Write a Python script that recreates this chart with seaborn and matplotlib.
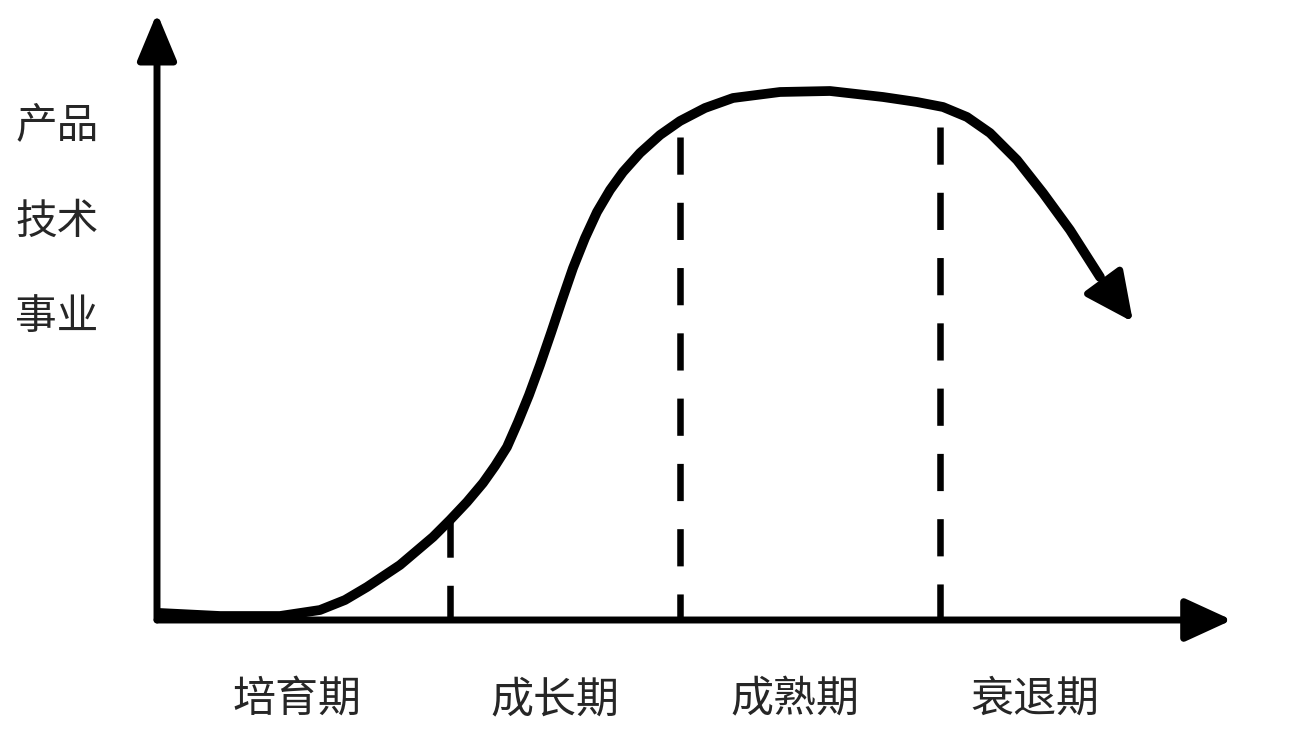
import numpy as np
import pandas as pd
import matplotlib
matplotlib.use("Agg")
import matplotlib.pyplot as plt
import seaborn as sns

# life cycle curve (x: time, y: level)
curve_x = [0.3, 6.3, 12.3, 16.3, 18.8, 21.0, 24.3, 27.6, 29.3, 31.0, 32.6, 33.8,
           35.0, 36.1, 37.2, 38.3, 39.4, 40.5, 41.6, 42.8, 44.0, 45.3, 46.6,
           48.3, 50.3, 52.3, 54.8, 57.6, 62.3, 67.3, 72.6, 76.0, 78.6, 81.0,
           83.3, 86.0, 88.6, 91.3, 94.3]
curve_y = [0.7, 0.4, 0.4, 1.0, 2.0, 3.3, 5.5, 8.3, 10.0, 11.8, 13.7, 15.4,
           17.3, 19.8, 22.5, 25.5, 28.7, 32.0, 35.2, 38.2, 40.8, 43.0, 44.8,
           46.7, 48.5, 49.9, 51.2, 52.2, 52.8, 52.9, 52.3, 51.8, 51.3, 50.3,
           48.7, 46.0, 42.7, 39.0, 34.3]
arrow_tip = (97.6, 29.8)

# stage boundaries (dashed) and where their dashes begin
bound_x = [29.3, 52.3, 78.3]
bound_top = [10.0, 48.3, 49.3]

stages = ["培育期", "成长期", "成熟期", "衰退期"]
stage_x = [14.0, 39.8, 63.8, 87.8]
y_labels = ["产品", "技术", "事业"]
y_label_y = [49.4, 39.8, 30.2]

x_end = 107.5
y_end = 60.7

sns.set_theme(style="white")
plt.rcParams["font.family"] = ["Noto Sans CJK SC", "DejaVu Sans"]

fig = plt.figure(figsize=(13.07, 7.29), dpi=100)
ax = fig.add_axes([0, 0, 1, 1])
ax.set_xlim(-15.7, 115.0)
ax.set_ylim(-10.9, 62.0)
ax.axis("off")

df = pd.DataFrame({"x": curve_x, "y": curve_y})
sns.lineplot(data=df, x="x", y="y", sort=False, color="black", lw=7,
             solid_joinstyle="round", solid_capstyle="round", ax=ax)
ax.annotate("", xy=arrow_tip, xytext=(curve_x[-1], curve_y[-1]),
            arrowprops=dict(arrowstyle="-|>,head_length=2.5,head_width=1.2",
                            color="black", lw=5, shrinkA=0, shrinkB=0))

# axes arrows
ax.annotate("", xy=(x_end, 0), xytext=(0, 0),
            arrowprops=dict(arrowstyle="-|>,head_length=2.4,head_width=1.1",
                            color="black", lw=5, shrinkA=0, shrinkB=0))
ax.annotate("", xy=(0, y_end), xytext=(0, 0),
            arrowprops=dict(arrowstyle="-|>,head_length=2.4,head_width=1.0",
                            color="black", lw=5, shrinkA=0, shrinkB=0))

ax.vlines(bound_x, bound_top, 0, colors="black", lw=4.7,
          linestyles=(0, (5.7, 4.3)))

for s, sx in zip(stages, stage_x):
    ax.text(sx, -8.0, s, ha="center", va="center", fontsize=31, fontweight="light")
for s, sy in zip(y_labels, y_label_y):
    ax.text(-10.0, sy, s, ha="center", va="center", fontsize=30, fontweight="light")

fig.savefig("out.png", dpi=100, facecolor="white")
